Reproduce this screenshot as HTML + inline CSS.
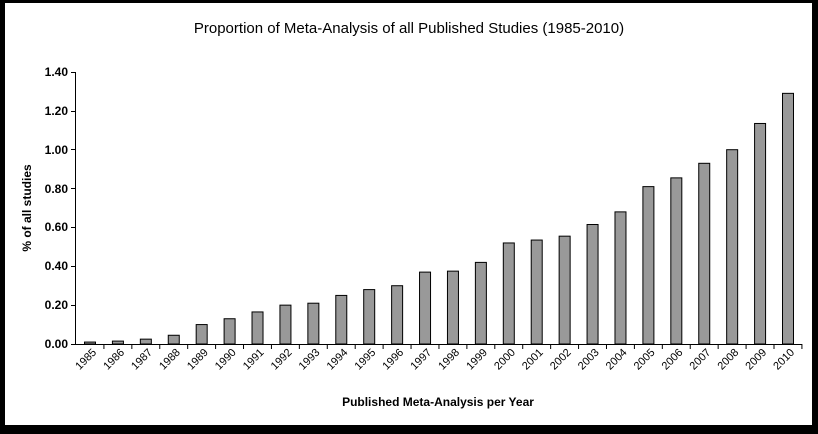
<!DOCTYPE html>
<html><head><style>body{margin:0;background:#000}</style></head><body>
<svg width="818" height="429" xmlns="http://www.w3.org/2000/svg" font-family="Liberation Sans, Arial, sans-serif">
<rect x="0" y="0" width="818" height="429" fill="#000"/>
<rect x="5" y="3" width="807" height="422" fill="#fff"/>
<text x="409" y="33" text-anchor="middle" font-size="15">Proportion of Meta-Analysis of all Published Studies (1985-2010)</text>
<g font-size="12" font-weight="bold" text-anchor="end">
<text x="68" y="348">0.00</text><text x="68" y="309">0.20</text><text x="68" y="270">0.40</text><text x="68" y="231">0.60</text><text x="68" y="193">0.80</text><text x="68" y="154">1.00</text><text x="68" y="115">1.20</text><text x="68" y="76">1.40</text>
</g>
<g stroke="#000" stroke-width="1">
<line x1="75.5" y1="72" x2="75.5" y2="344"/>
<line x1="71" y1="344.5" x2="802" y2="344.5"/>
<line x1="71" y1="305.5" x2="75" y2="305.5"/><line x1="71" y1="266.5" x2="75" y2="266.5"/><line x1="71" y1="227.5" x2="75" y2="227.5"/><line x1="71" y1="188.5" x2="75" y2="188.5"/><line x1="71" y1="149.5" x2="75" y2="149.5"/><line x1="71" y1="111.5" x2="75" y2="111.5"/><line x1="71" y1="72.5" x2="75" y2="72.5"/>
</g>
<text transform="translate(31,208) rotate(-90)" text-anchor="middle" font-size="12" font-weight="bold">% of all studies</text>
<text x="438" y="406" text-anchor="middle" font-size="12" font-weight="bold">Published Meta-Analysis per Year</text>
<g fill="#999" stroke="#000" stroke-width="1">
<rect x="84.5" y="342.06" width="11" height="1.94"/>
<rect x="112.42" y="341.09" width="11" height="2.91"/>
<rect x="140.34" y="339.14" width="11" height="4.86"/>
<rect x="168.26" y="335.26" width="11" height="8.74"/>
<rect x="196.18" y="324.57" width="11" height="19.43"/>
<rect x="224.1" y="318.74" width="11" height="25.26"/>
<rect x="252.02" y="311.94" width="11" height="32.06"/>
<rect x="279.94" y="305.14" width="11" height="38.86"/>
<rect x="307.86" y="303.2" width="11" height="40.8"/>
<rect x="335.78" y="295.42" width="11" height="48.58"/>
<rect x="363.7" y="289.6" width="11" height="54.4"/>
<rect x="391.62" y="285.71" width="11" height="58.29"/>
<rect x="419.54" y="272.11" width="11" height="71.89"/>
<rect x="447.46" y="271.14" width="11" height="72.86"/>
<rect x="475.38" y="262.39" width="11" height="81.61"/>
<rect x="503.3" y="242.96" width="11" height="101.04"/>
<rect x="531.22" y="240.05" width="11" height="103.95"/>
<rect x="559.14" y="236.16" width="11" height="107.84"/>
<rect x="587.06" y="224.51" width="11" height="119.49"/>
<rect x="614.98" y="211.88" width="11" height="132.12"/>
<rect x="642.9" y="186.62" width="11" height="157.38"/>
<rect x="670.82" y="177.87" width="11" height="166.13"/>
<rect x="698.74" y="163.3" width="11" height="180.7"/>
<rect x="726.66" y="149.7" width="11" height="194.3"/>
<rect x="754.58" y="123.47" width="11" height="220.53"/>
<rect x="782.5" y="93.35" width="11" height="250.65"/>
</g>
<g stroke="#000" stroke-width="1">
<line x1="103.92" y1="344" x2="103.92" y2="349"/><line x1="131.84" y1="344" x2="131.84" y2="349"/><line x1="159.76" y1="344" x2="159.76" y2="349"/><line x1="187.68" y1="344" x2="187.68" y2="349"/><line x1="215.6" y1="344" x2="215.6" y2="349"/><line x1="243.52" y1="344" x2="243.52" y2="349"/><line x1="271.44" y1="344" x2="271.44" y2="349"/><line x1="299.36" y1="344" x2="299.36" y2="349"/><line x1="327.28" y1="344" x2="327.28" y2="349"/><line x1="355.2" y1="344" x2="355.2" y2="349"/><line x1="383.12" y1="344" x2="383.12" y2="349"/><line x1="411.04" y1="344" x2="411.04" y2="349"/><line x1="438.96" y1="344" x2="438.96" y2="349"/><line x1="466.88" y1="344" x2="466.88" y2="349"/><line x1="494.8" y1="344" x2="494.8" y2="349"/><line x1="522.72" y1="344" x2="522.72" y2="349"/><line x1="550.64" y1="344" x2="550.64" y2="349"/><line x1="578.56" y1="344" x2="578.56" y2="349"/><line x1="606.48" y1="344" x2="606.48" y2="349"/><line x1="634.4" y1="344" x2="634.4" y2="349"/><line x1="662.32" y1="344" x2="662.32" y2="349"/><line x1="690.24" y1="344" x2="690.24" y2="349"/><line x1="718.16" y1="344" x2="718.16" y2="349"/><line x1="746.08" y1="344" x2="746.08" y2="349"/><line x1="774" y1="344" x2="774" y2="349"/><line x1="801.92" y1="344" x2="801.92" y2="349"/>
</g>
<g font-size="11" text-anchor="end">
<text transform="translate(97,353) rotate(-45)">1985</text>
<text transform="translate(124.92,353) rotate(-45)">1986</text>
<text transform="translate(152.84,353) rotate(-45)">1987</text>
<text transform="translate(180.76,353) rotate(-45)">1988</text>
<text transform="translate(208.68,353) rotate(-45)">1989</text>
<text transform="translate(236.6,353) rotate(-45)">1990</text>
<text transform="translate(264.52,353) rotate(-45)">1991</text>
<text transform="translate(292.44,353) rotate(-45)">1992</text>
<text transform="translate(320.36,353) rotate(-45)">1993</text>
<text transform="translate(348.28,353) rotate(-45)">1994</text>
<text transform="translate(376.2,353) rotate(-45)">1995</text>
<text transform="translate(404.12,353) rotate(-45)">1996</text>
<text transform="translate(432.04,353) rotate(-45)">1997</text>
<text transform="translate(459.96,353) rotate(-45)">1998</text>
<text transform="translate(487.88,353) rotate(-45)">1999</text>
<text transform="translate(515.8,353) rotate(-45)">2000</text>
<text transform="translate(543.72,353) rotate(-45)">2001</text>
<text transform="translate(571.64,353) rotate(-45)">2002</text>
<text transform="translate(599.56,353) rotate(-45)">2003</text>
<text transform="translate(627.48,353) rotate(-45)">2004</text>
<text transform="translate(655.4,353) rotate(-45)">2005</text>
<text transform="translate(683.32,353) rotate(-45)">2006</text>
<text transform="translate(711.24,353) rotate(-45)">2007</text>
<text transform="translate(739.16,353) rotate(-45)">2008</text>
<text transform="translate(767.08,353) rotate(-45)">2009</text>
<text transform="translate(795,353) rotate(-45)">2010</text>
</g>
</svg>
</body></html>
